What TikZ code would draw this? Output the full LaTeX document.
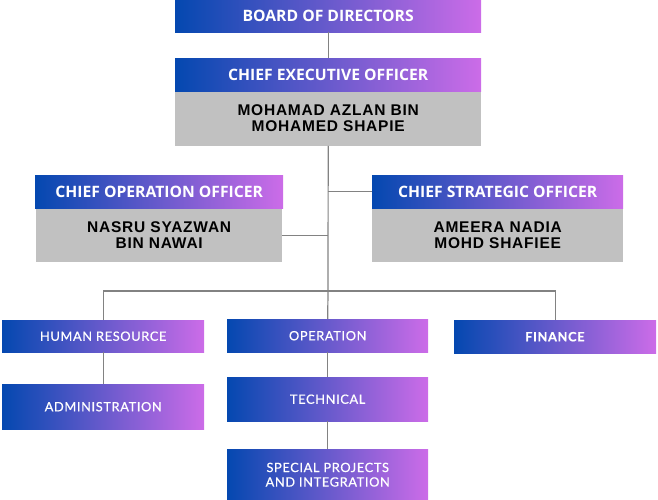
\documentclass[tikz,border=0pt]{standalone}
\usepackage{fontspec}
\setmainfont{Open Sans}
\newfontfamily\namefont[LetterSpace=5]{Liberation Sans}
\newfontfamily\deptfont[LetterSpace=5, FakeBold=0.6]{Lato}
\usetikzlibrary{positioning}
\definecolor{gradleft}{RGB}{4,72,176}
\definecolor{gradright}{RGB}{204,108,232}
\definecolor{namegray}{RGB}{193,193,193}
\definecolor{linkgray}{RGB}{130,130,130}
\tikzset{
    titlebox/.style={left color=gradleft, right color=gradright, text=white, inner sep=0pt, anchor=north west, align=center},
    headbox/.style={titlebox, font=\fontsize{15.7}{17}\selectfont\bfseries},
    deptbox/.style={titlebox, font=\deptfont\fontsize{12.8}{14.5}\selectfont},
    namebox/.style={fill=namegray, inner sep=0pt, align=center, font=\namefont\fontsize{15.5}{16}\selectfont\bfseries},
    link/.style={draw=linkgray, line width=1.2pt}
}

\begin{document}
\begin{tikzpicture}[x=1pt, y=1pt]
    \useasboundingbox (0,0) rectangle (658,-500);
    % top level
    \node[headbox, minimum width=306pt, minimum height=32pt](board) at (175,0) {BOARD OF DIRECTORS};
    \node[headbox, minimum width=306pt, minimum height=33pt](ceo) at (175,-58) {CHIEF EXECUTIVE OFFICER};
    \node[namebox, below=0pt of ceo, minimum width=306pt, minimum height=54pt](ceoname) {MOHAMAD AZLAN BIN\\MOHAMED SHAPIE};
    % officers
    \node[headbox, minimum width=248pt, minimum height=33pt](coo) at (35,-175) {CHIEF OPERATION OFFICER};
    \node[namebox, below=0pt of coo, minimum width=246pt, minimum height=53pt](cooname) {NASRU SYAZWAN\\BIN NAWAI};
    \node[headbox, minimum width=251pt, minimum height=33pt](cso) at (372,-175) {CHIEF STRATEGIC OFFICER};
    \node[namebox, below=0pt of cso, minimum width=251pt, minimum height=53pt](csoname) {AMEERA NADIA\\MOHD SHAFIEE};
    % departments
    \node[deptbox, minimum width=202pt, minimum height=32pt](hr) at (2,-320) {HUMAN RESOURCE};
    \node[deptbox, minimum width=201pt, minimum height=33pt](ops) at (227,-319) {OPERATION};
    \node[deptbox, minimum width=202pt, minimum height=33pt](fin) at (454,-320) {\textbf{FINANCE}};
    \node[deptbox, minimum width=202pt, minimum height=45pt](admin) at (2,-384) {ADMINISTRATION};
    \node[deptbox, minimum width=201pt, minimum height=44pt](tech) at (227,-377) {TECHNICAL};
    \node[deptbox, minimum width=201pt, minimum height=51pt](special) at (227,-449) {SPECIAL PROJECTS\\AND INTEGRATION};
    \coordinate (bar) at (328,-291);
    % connectors
    \draw[link] (board) -- (ceo);
    \draw[link] (ceoname.south) -- (bar);
    \draw[link] (cso.west) -- (cso.west -| bar);
    \draw[link] (cooname.east) -- (cooname.east -| bar);
    \draw[link] (hr.north) |- (bar) -| (fin.north);
    \draw[link] (bar) -- (ops.north);
    \draw[link] (hr) -- (admin);
    \draw[link] (ops) -- (tech);
    \draw[link] (tech) -- (special);
\end{tikzpicture}
\end{document}
